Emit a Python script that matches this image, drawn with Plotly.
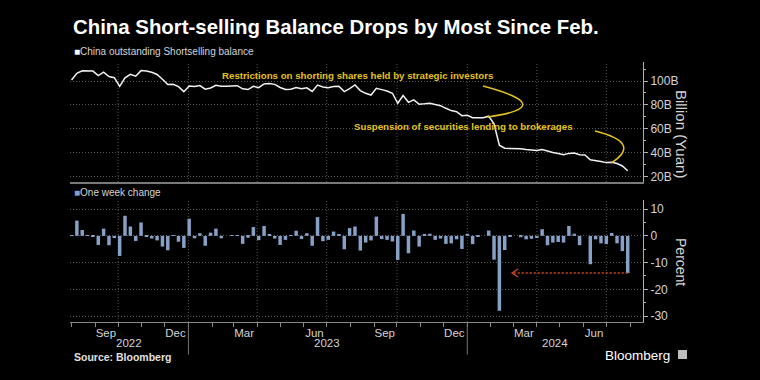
import pandas as pd
import plotly.graph_objects as go

# ---------------- data ----------------
dates = pd.date_range("2022-08-01", periods=105, freq="7D").strftime("%Y-%m-%d").tolist()

balance = [
    100.8, 106.5, 108.5, 108.6, 108.3, 104.6, 107.4, 103.7, 102.8, 95.6,
    102.6, 105.6, 104.0, 108.7, 108.4, 107.3, 105.5, 101.5, 97.0, 97.2,
    95.3, 91.1, 95.8, 95.4, 96.2, 93.2, 94.2, 96.5, 95.7, 95.7,
    95.9, 96.1, 93.5, 92.9, 95.6, 94.4, 97.6, 97.9, 97.2, 94.6,
    93.0, 93.1, 94.6, 93.6, 94.3, 91.3, 96.6, 95.0, 94.4, 95.5,
    95.7, 91.2, 93.6, 96.7, 92.0, 89.7, 88.3, 93.9, 92.8, 91.7,
    89.8, 81.4, 87.8, 82.2, 84.2, 80.6, 80.9, 81.4, 80.3, 79.4,
    77.2, 75.3, 74.3, 71.0, 71.4, 69.4, 69.3, 69.3, 70.6, 64.3,
    46.3, 43.8, 43.6, 43.6, 43.3, 42.8, 42.3, 42.0, 42.8, 41.3,
    40.3, 39.4, 38.3, 39.5, 39.8, 38.4, 38.2, 34.2, 33.7, 32.8,
    31.8, 32.1, 31.0, 29.0, 25.0,
]

weekly_change = [
    0.3, 5.7, 2.2, 0.3, -0.2, -3.4, 2.7, -3.5, -0.8, -7.5,
    7.5, 3.5, -1.9, 5.0, -0.3, -1.0, -1.7, -4.0, -5.4, 0.3,
    -2.2, -4.5, 6.4, -0.9, 1.0, -3.7, 1.2, 2.7, -0.9, 0.0,
    0.2, 0.3, -3.0, -0.7, 3.3, -1.6, 3.7, 0.6, -1.0, -3.4,
    -1.5, 0.2, 1.9, -1.2, 1.0, -3.7, 7.0, -2.0, -1.5, 1.6,
    0.5, -5.0, 2.9, 3.5, -5.5, -2.5, -1.7, 7.2, -1.2, -1.5,
    -2.1, -9.0, 8.2, -6.5, 2.0, -4.0, 0.4, 0.8, -1.5, -1.0,
    -3.0, -2.8, -1.3, -4.9, 0.8, -3.1, -0.2, 0.0, 2.0, -8.9,
    -28.0, -5.3, -0.2, 0.0, -0.5, -1.3, -1.1, -0.8, 2.5, -3.5,
    -2.5, -2.3, -2.5, 3.7, 0.8, -3.5, 0.0, -10.6, -1.3, -2.8,
    -3.1, 1.1, -2.8, -5.7, -13.9,
]

month_tick_vals = ["2022-09-15", "2022-12-15", "2023-03-15", "2023-06-15",
                   "2023-09-15", "2023-12-15", "2024-03-15", "2024-06-15"]
month_tick_text = ["Sep", "Dec", "Mar", "Jun", "Sep", "Dec", "Mar", "Jun"]
month_starts = pd.date_range("2022-08-01", "2024-08-01", freq="MS").strftime("%Y-%m-%d").tolist()
quarter_starts = ["2022-10-01", "2023-01-01", "2023-04-01", "2023-07-01",
                  "2023-10-01", "2024-01-01", "2024-04-01", "2024-07-01"]
year_labels = ["2022", "2023", "2024"]
year_label_pos = ["2022-10-15", "2023-07-02", "2024-04-25"]
year_breaks = ["2023-01-01", "2024-01-01"]
bal_ticks = [20, 40, 60, 80, 100]
bal_tick_text = ["20B", "40B", "60B", "80B", "100B"]
chg_ticks = [-30, -20, -10, 0, 10]
chg_tick_text = ["-30", "-20", "-10", "0", "10"]
x_range = ["2022-07-30", "2024-08-18"]
arrow_head_date = "2024-02-28"

# ---------------- style ----------------
WHITE = "#f2f2f2"
BAR = "#86a0c6"
YELLOW = "#e3c31d"
RED = "#d24a2a"
GRID = "#555555"
TXT = "#d4d4d4"
FONT = "Liberation Sans"

fig = go.Figure()
fig.add_trace(go.Scatter(x=dates, y=balance, mode="lines",
                         line=dict(color=WHITE, width=1.5),
                         xaxis="x", yaxis="y", showlegend=False))
fig.add_trace(go.Bar(x=dates, y=weekly_change, marker=dict(color=BAR, line=dict(width=0)),
                     xaxis="x2", yaxis="y2", showlegend=False))

top_dom = [0.5385, 1.0]
bot_dom = [0.0, 0.4692]

fig.update_layout(
    width=760, height=380,
    paper_bgcolor="#000000", plot_bgcolor="#000000",
    margin=dict(l=70, r=117, t=62, b=58),
    bargap=0.35, showlegend=False,
    font=dict(family=FONT, color=TXT),
    xaxis=dict(domain=[0, 1], anchor="y", range=x_range, type="date",
               showgrid=False, showticklabels=False, ticks="",
               showline=True, linecolor="#7a7a7a", linewidth=2, zeroline=False),
    xaxis2=dict(domain=[0, 1], anchor="y2", range=x_range, type="date", matches="x",
                tickmode="array", tickvals=month_tick_vals, ticktext=month_tick_text,
                ticks="", showgrid=False, showline=True, linecolor="#8a8a8a", linewidth=1,
                tickfont=dict(size=11.5, color=TXT, family=FONT),
                minor=dict(tickmode="array", tickvals=month_starts, ticks="outside",
                           ticklen=4, tickcolor="#8a8a8a", showgrid=False),
                zeroline=False),
    yaxis=dict(domain=top_dom, anchor="x", side="right", range=[15.6, 115.9],
               tickmode="array", tickvals=bal_ticks, ticktext=bal_tick_text,
               showgrid=True, gridcolor=GRID, griddash="1px,2px", gridwidth=1,
               showline=True, linecolor="#b0b0b0", linewidth=1,
               ticks="outside", ticklen=4, tickcolor="#b0b0b0",
               minor=dict(tickmode="array", tickvals=[30, 50, 70, 90, 110], ticks="outside",
                          ticklen=2, tickcolor="#b0b0b0", showgrid=False),
               tickfont=dict(size=12, color=TXT, family=FONT), zeroline=False),
    yaxis2=dict(domain=bot_dom, anchor="x2", side="right", range=[-32.2, 13.4],
                tickmode="array", tickvals=chg_ticks, ticktext=chg_tick_text,
                showgrid=True, gridcolor=GRID, griddash="1px,2px", gridwidth=1,
                showline=True, linecolor="#b0b0b0", linewidth=1,
                ticks="outside", ticklen=4, tickcolor="#b0b0b0",
                minor=dict(tickmode="array", tickvals=[-25, -15, -5, 5], ticks="outside",
                           ticklen=2, tickcolor="#b0b0b0", showgrid=False),
                tickfont=dict(size=12, color=TXT, family=FONT), zeroline=False),
)

shapes = []
for q in quarter_starts:
    shapes.append(dict(type="line", xref="x", yref="y domain", x0=q, x1=q, y0=0, y1=1,
                       line=dict(color=GRID, width=1, dash="1px,2px"), layer="below"))
    shapes.append(dict(type="line", xref="x2", yref="y2 domain", x0=q, x1=q, y0=0, y1=1,
                       line=dict(color=GRID, width=1, dash="1px,2px"), layer="below"))
for yb in year_breaks:
    shapes.append(dict(type="line", xref="x2", yref="paper", x0=yb, x1=yb, y0=0, y1=-0.125,
                       line=dict(color="#777777", width=1)))
# annotation curves (yellow)
shapes.append(dict(type="path", xref="paper", yref="paper",
                   path="M 0.7208,0.9077 Q 0.8551,0.8288 0.7295,0.7885",
                   line=dict(color=YELLOW, width=1.5)))
shapes.append(dict(type="path", xref="paper", yref="paper",
                   path="M 0.9162,0.7346 Q 1.0,0.6885 0.9442,0.6115",
                   line=dict(color=YELLOW, width=1.5)))
# red dotted arrow
shapes.append(dict(type="line", xref="x2", yref="y2", x0=dates[-1], x1=arrow_head_date,
                   y0=weekly_change[-1], y1=weekly_change[-1],
                   line=dict(color=RED, width=1.5, dash="2px,2px")))
shapes.append(dict(type="path", xref="paper", yref="paper",
                   path="M 0.7819,0.2039 L 0.7714,0.1885 L 0.7819,0.1731",
                   line=dict(color=RED, width=1.2)))
# Bloomberg icon
shapes.append(dict(type="rect", xref="paper", yref="paper", x0=1.0611, x1=1.0768,
                   y0=-0.1423, y1=-0.1077, fillcolor="#bdbdbd", line=dict(width=0)))
fig.update_layout(shapes=shapes)

ann = []
ann.append(dict(text="<b>China Short-selling Balance Drops by Most Since Feb.</b>",
                xref="paper", yref="paper", x=0.0017, y=1.1346, xanchor="left", yanchor="middle",
                showarrow=False, font=dict(size=20.4, color="#ffffff", family=FONT)))
ann.append(dict(text="<span style='color:#ffffff'>■</span>China outstanding Shortselling balance",
                xref="paper", yref="paper", x=0.0035, y=1.0423, xanchor="left", yanchor="middle",
                showarrow=False, font=dict(size=10, color=TXT, family=FONT)))
ann.append(dict(text="<span style='color:%s'>■</span>One week change" % BAR,
                xref="paper", yref="paper", x=0.0035, y=0.4962, xanchor="left", yanchor="middle",
                showarrow=False, font=dict(size=10, color=TXT, family=FONT)))
ann.append(dict(text="<b>Restrictions on shorting shares held by strategic investors</b>",
                xref="paper", yref="paper", x=0.5009, y=0.95, xanchor="center", yanchor="middle",
                showarrow=False, font=dict(size=9.7, color=YELLOW, family=FONT)))
ann.append(dict(text="<b>Suspension of securities lending to brokerages</b>",
                xref="paper", yref="paper", x=0.6876, y=0.7538, xanchor="center", yanchor="middle",
                showarrow=False, font=dict(size=9.7, color=YELLOW, family=FONT)))
ann.append(dict(text="Billion (Yuan)", xref="paper", yref="paper", x=1.0663, y=0.7231,
                xanchor="center", yanchor="middle", textangle=90, showarrow=False,
                font=dict(size=15, color=TXT, family=FONT)))
ann.append(dict(text="Percent", xref="paper", yref="paper", x=1.0663, y=0.2308,
                xanchor="center", yanchor="middle", textangle=90, showarrow=False,
                font=dict(size=14, color=TXT, family=FONT)))
for lbl, pos in zip(year_labels, year_label_pos):
    ann.append(dict(text=lbl, xref="x2", yref="paper", x=pos, y=-0.0808,
                    xanchor="center", yanchor="middle", showarrow=False,
                    font=dict(size=11.5, color=TXT, family=FONT)))
ann.append(dict(text="<b>Source: Bloomberg</b>", xref="paper", yref="paper", x=0.0035, y=-0.1346,
                xanchor="left", yanchor="middle", showarrow=False,
                font=dict(size=10.5, color="#e0e0e0", family=FONT)))
ann.append(dict(text="Bloomberg", xref="paper", yref="paper", x=1.0506, y=-0.127,
                xanchor="right", yanchor="middle", showarrow=False,
                font=dict(size=13.5, color="#ffffff", family=FONT)))
fig.update_layout(annotations=ann)

fig.write_html("out.html", config={"displayModeBar": False},
               post_script="document.body.style.margin='0';document.body.style.background='#000';")
